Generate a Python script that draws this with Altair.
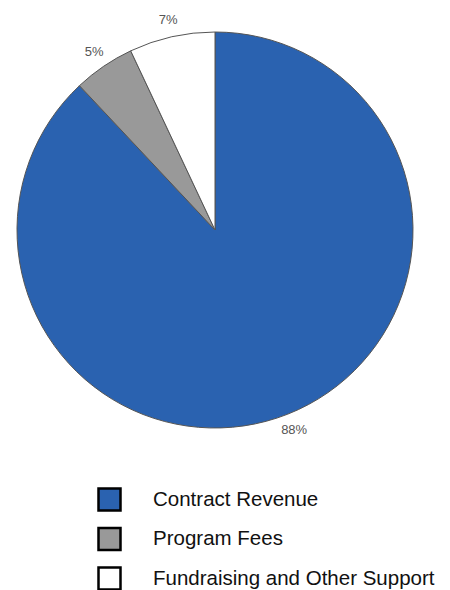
import altair as alt
import pandas as pd

categories = ["Contract Revenue", "Program Fees", "Fundraising and Other Support"]
values = [88, 5, 7]
labels = ["88%", "5%", "7%"]
colors = ["#2a62b0", "#999999", "#ffffff"]
order = [0, 1, 2]

df = pd.DataFrame({"category": categories, "value": values, "label": labels, "order": order})

cx, cy = 207, 222

base = alt.Chart(df).encode(
    theta=alt.Theta("value:Q", stack=True),
    order=alt.Order("order:Q"),
)

pie = base.mark_arc(outerRadius=198, stroke="#555555", strokeWidth=1).encode(
    x=alt.value(cx), y=alt.value(cy),
    color=alt.Color(
        "category:N",
        scale=alt.Scale(domain=categories, range=colors),
        legend=alt.Legend(
            title=None, orient="none", legendX=89, legendY=479,
            symbolType="square", symbolSize=484, symbolStrokeColor="black",
            symbolStrokeWidth=2.5, symbolOpacity=1, labelFontSize=20.5,
            labelFont="Liberation Sans", labelColor="#111111", labelOffset=31,
            rowPadding=6.5, padding=0, labelLimit=400,
        ),
    ),
)

text = base.mark_text(radius=215, fontSize=13, font="Liberation Sans", color="#555555").encode(
    x=alt.value(cx), y=alt.value(cy),
    text="label:N",
)

chart = (pie + text).properties(
    width=434, height=582, autosize=alt.AutoSizeParams(type="none"), padding=0
).configure_view(stroke=None)

chart.save("out.html", embed_options={"renderer": "svg", "actions": False})
